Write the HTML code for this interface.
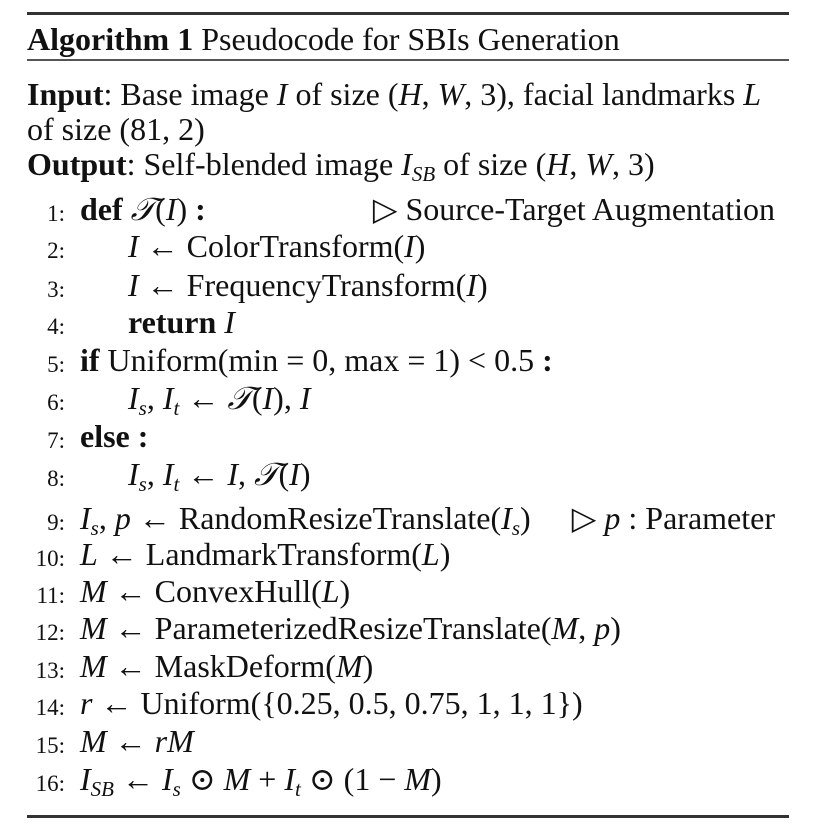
<!DOCTYPE html>
<html><head><meta charset="utf-8">
<style>
body{margin:0;background:#fff;width:813px;height:825px;overflow:hidden;position:relative;font-family:"Liberation Serif","DejaVu Serif",serif;color:#111;}
.l{position:absolute;left:27px;height:34px;line-height:34px;font-size:32px;white-space:nowrap;}
.n{position:absolute;width:40px;text-align:right;font-size:23px;left:25px;height:34px;line-height:44px;}
.c{position:absolute;left:80px;height:34px;line-height:34px;font-size:32px;white-space:nowrap;}
.c.in{left:128px}
.cm{position:absolute;right:38px;height:34px;line-height:34px;font-size:32px;white-space:nowrap;}
.rule{position:absolute;left:27px;width:762px;background:#333;}
i{font-style:italic}
sub{font-size:21px;vertical-align:-6px;line-height:0}
</style></head><body>
<div class="rule" style="top:12px;height:3px"></div>
<div class="l" style="top:22px"><b>Algorithm 1</b> Pseudocode for SBIs Generation</div>
<div class="rule" style="top:59px;height:2px;background:#555"></div>
<div class="l" style="top:77px"><b>Input</b>: Base image <i>I</i> of size (<i>H</i>, <i>W</i>, 3), facial landmarks <i>L</i></div>
<div class="l" style="top:112px">of size (81, 2)</div>
<div class="l" style="top:147px"><b>Output</b>: Self-blended image <i>I</i><sub><i>SB</i></sub> of size (<i>H</i>, <i>W</i>, 3)</div>

<div id="code"></div>

<div class="rule" style="top:815px;height:3px"></div>

<script>
const lines=[
 [0,'<b>def</b> <i>𝒯</i>(<i>I</i>) <b>:</b>','▷ Source-Target Augmentation'],
 [1,'<i>I</i> ← ColorTransform(<i>I</i>)',''],
 [1,'<i>I</i> ← FrequencyTransform(<i>I</i>)',''],
 [1,'<b>return</b> <i>I</i>',''],
 [0,'<b>if</b> Uniform(min = 0, max = 1) &lt; 0.5 <b>:</b>',''],
 [1,'<i>I<sub>s</sub></i>, <i>I<sub>t</sub></i> ← <i>𝒯</i>(<i>I</i>), <i>I</i>',''],
 [0,'<b>else :</b>',''],
 [1,'<i>I<sub>s</sub></i>, <i>I<sub>t</sub></i> ← <i>I</i>, <i>𝒯</i>(<i>I</i>)',''],
 [0,'<i>I<sub>s</sub></i>, <i>p</i> ← RandomResizeTranslate(<i>I<sub>s</sub></i>)','▷ <i>p</i> : Parameter'],
 [0,'<i>L</i> ← LandmarkTransform(<i>L</i>)',''],
 [0,'<i>M</i> ← ConvexHull(<i>L</i>)',''],
 [0,'<i>M</i> ← ParameterizedResizeTranslate(<i>M</i>, <i>p</i>)',''],
 [0,'<i>M</i> ← MaskDeform(<i>M</i>)',''],
 [0,'<i>r</i> ← Uniform({0.25, 0.5, 0.75, 1, 1, 1})',''],
 [0,'<i>M</i> ← <i>rM</i>',''],
 [0,'<i>I</i><sub><i>SB</i></sub> ← <i>I<sub>s</sub></i> ⊙ <i>M</i> + <i>I<sub>t</sub></i> ⊙ (1 − <i>M</i>)','']
];
const tops=[192,229,268,305,343,381,419,457,501,537,574,611,649,686,724,762];
const host=document.getElementById('code');
lines.forEach((ln,k)=>{
  const n=document.createElement('div');
  n.className='n';n.style.top=tops[k]+'px';n.textContent=(k+1)+':';
  
  
  host.appendChild(n);
  const c=document.createElement('div');
  c.className='c'+(ln[0]?' in':'');c.style.top=tops[k]+'px';c.innerHTML=ln[1];
  
  
  host.appendChild(c);
  if(ln[2]){
    const m=document.createElement('div');
    m.className='cm';m.style.top=tops[k]+'px';m.innerHTML=ln[2];
    
    
    host.appendChild(m);
  }
});
</script>
</body></html>
